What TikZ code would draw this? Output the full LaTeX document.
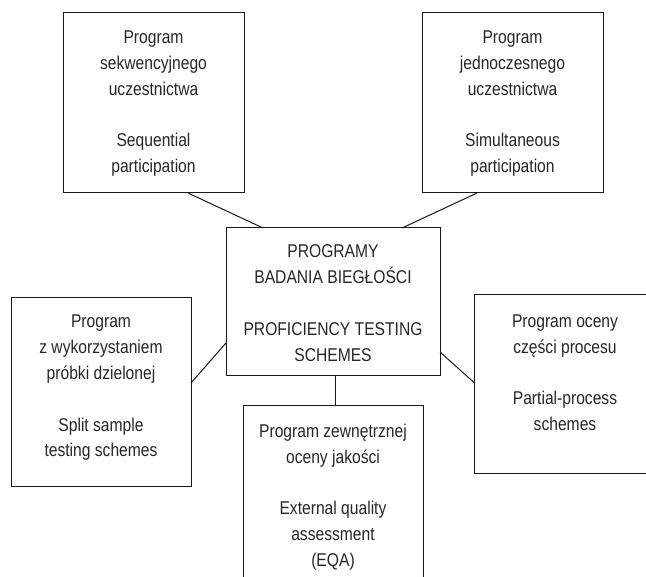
\documentclass[tikz,border=0pt]{standalone}
\usepackage{fontspec}
\setmainfont{Liberation Sans}[FakeStretch=0.845]
\usetikzlibrary{calc}
\definecolor{txt}{gray}{0.15}
\definecolor{ln}{gray}{0.1}
\newcommand{\boxcontent}[4]{% width, height, top pad, text
  \begin{minipage}[c][#2pt][t]{#1pt}\centering
  \vspace*{#3pt}\rule{0pt}{14pt}#4\end{minipage}}
\newcommand{\gap}{\\[25.8pt]}
\begin{document}
\begin{tikzpicture}[x=1pt,y=-1pt,
  pbox/.style={draw=ln, line width=1pt, inner sep=0pt, outer sep=0pt,
    text=txt, font=\fontsize{18.5pt}{25.8pt}\selectfont},
  link/.style={draw=ln, line width=1pt}]
\useasboundingbox (0,0) rectangle (646,577);
\clip (0,0) rectangle (646,577);
\node[pbox] (seq) at (153.5,103) {\boxcontent{181}{180}{16.5}{Program\\sekwencyjnego\\uczestnictwa\gap Sequential\\participation}};
\node[pbox] (sim) at (512.5,103) {\boxcontent{181}{180}{16.5}{Program\\jednoczesnego\\uczestnictwa\gap Simultaneous\\participation}};
\node[pbox] (cen) at (333,302) {\boxcontent{214}{148}{16}{PROGRAMY\\BADANIA BIEGŁOŚCI\gap PROFICIENCY TESTING\\SCHEMES}};
\node[pbox] (split) at (101,392.5) {\boxcontent{180}{189}{16}{Program\\z wykorzystaniem\\próbki dzielonej\gap Split sample\\testing schemes}};
\node[pbox] (part) at (565,384.5) {\boxcontent{182}{179}{18.5}{Program oceny\\części procesu\gap Partial-process\\schemes}};
\node[pbox] (eqa) at (333,503) {\boxcontent{180}{194}{17.5}{Program zewnętrznej\\oceny jakości\gap External quality\\assessment\\(EQA)}};
\draw[link] ($(seq.south)+(34.5,0)$) -- ($(cen.north)+(-70,0)$);
\draw[link] ($(sim.south)+(-35.5,0)$) -- ($(cen.north)+(69,0)$);
\draw[link] ($(split.east)+(0,-9.5)$) -- ($(cen.west)+(0,41)$);
\draw[link] ($(cen.east)+(0,50)$) -- ($(part.west)+(0,-2)$);
\draw[link] ($(cen.south)+(2.5,0)$) -- ($(eqa.north)+(2.5,0)$);
\end{tikzpicture}
\end{document}
